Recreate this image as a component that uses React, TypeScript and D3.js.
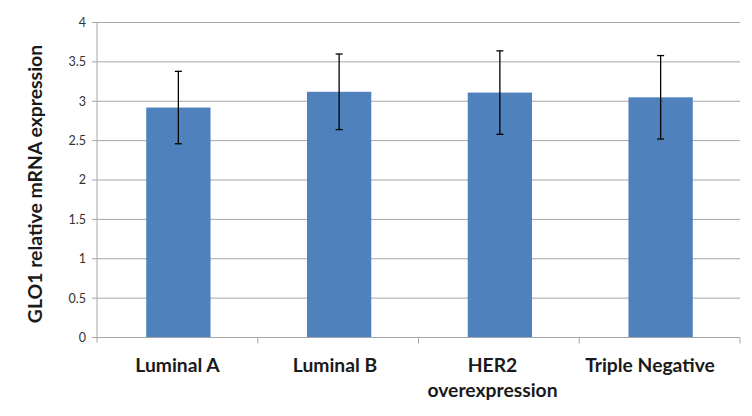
import { useEffect, useRef } from 'react';
import * as d3 from 'd3';

const W = 752;
const H = 416;

const categories = ['Luminal A', 'Luminal B', 'HER2\noverexpression', 'Triple Negative'];
const means = [2.92, 3.12, 3.11, 3.05];
const errors = [0.46, 0.48, 0.53, 0.53];
const yTicks = [0, 0.5, 1, 1.5, 2, 2.5, 3, 3.5, 4];

const M = { left: 97, right: 740, top: 22.5, bottom: 337.5 };
const FONT = 'Lato, "Open Sans", sans-serif';

export default function App() {
  const svgRef = useRef<SVGSVGElement>(null);

  useEffect(() => {
    const svg = d3.select(svgRef.current);
    svg.selectAll('*').remove();

    const x = d3.scaleBand<string>().domain(categories).range([M.left, M.right]).paddingInner(0).paddingOuter(0);
    const y = d3.scaleLinear([0, 4], [M.bottom, M.top]);
    // labels sit slightly left of band centres (kept inside the plot edge)
    const xl = d3.scalePoint<string>().domain(categories).range([M.left + 80.5, M.right - 90]);

    // gridlines
    svg.append('g').selectAll('line').data(yTicks.filter(t => t > 0)).join('line')
      .attr('x1', M.left).attr('x2', M.right)
      .attr('y1', d => y(d)).attr('y2', d => y(d))
      .attr('stroke', '#a6a6a6').attr('stroke-width', 1);

    // y ticks + labels
    svg.append('g').selectAll('line').data(yTicks).join('line')
      .attr('x1', M.left - 5).attr('x2', M.left)
      .attr('y1', d => y(d)).attr('y2', d => y(d))
      .attr('stroke', '#a6a6a6');
    svg.append('g').selectAll('text').data(yTicks).join('text')
      .attr('x', M.left - 11).attr('y', d => y(d)).attr('dy', '0.35em')
      .attr('text-anchor', 'end').attr('font-family', FONT).attr('font-size', 12.5)
      .attr('fill', '#333').text(d => String(d));

    // bars
    const bw = x.bandwidth() * 0.4;
    svg.append('g').selectAll('rect').data(categories).join('rect')
      .attr('x', d => x(d)! + x.bandwidth() / 2 - bw / 2 + 1)
      .attr('width', bw)
      .attr('y', (_, i) => y(means[i]))
      .attr('height', (_, i) => y(0) - y(means[i]))
      .attr('fill', '#4f81bd');

    // error bars
    const eb = svg.append('g').attr('stroke', '#000').attr('stroke-width', 1.3);
    categories.forEach((c, i) => {
      const cx = x(c)! + x.bandwidth() / 2 + 1;
      const hi = y(means[i] + errors[i]);
      const lo = y(means[i] - errors[i]);
      eb.append('line').attr('x1', cx).attr('x2', cx).attr('y1', hi).attr('y2', lo);
      eb.append('line').attr('x1', cx - 3.5).attr('x2', cx + 3.5).attr('y1', hi).attr('y2', hi);
      eb.append('line').attr('x1', cx - 3.5).attr('x2', cx + 3.5).attr('y1', lo).attr('y2', lo);
    });

    // axes
    svg.append('line').attr('x1', M.left).attr('x2', M.left).attr('y1', M.top).attr('y2', M.bottom + 5)
      .attr('stroke', '#a6a6a6');
    svg.append('line').attr('x1', M.left).attr('x2', M.right).attr('y1', M.bottom).attr('y2', M.bottom)
      .attr('stroke', '#a6a6a6');
    svg.append('g').selectAll('line').data(categories).join('line')
      .attr('x1', d => x(d)! + x.bandwidth()).attr('x2', d => x(d)! + x.bandwidth())
      .attr('y1', M.bottom).attr('y2', M.bottom + 6)
      .attr('stroke', '#a6a6a6');

    // category labels
    const lbl = svg.append('g').selectAll('text').data(categories).join('text')
      .attr('x', d => xl(d)!)
      .attr('y', 372)
      .attr('text-anchor', 'middle').attr('font-family', FONT).attr('font-weight', 'bold')
      .attr('font-size', 19.3).attr('fill', '#1a1a1a');
    lbl.each(function (d) {
      const t = d3.select(this);
      d.split('\n').forEach((s, k) => {
        t.append('tspan').attr('x', t.attr('x')).attr('dy', k === 0 ? 0 : 25).text(s);
      });
    });

    // y title
    svg.append('text')
      .attr('transform', `translate(42,184) rotate(-90)`)
      .attr('text-anchor', 'middle').attr('font-family', FONT).attr('font-weight', 'bold')
      .attr('font-size', 19.4).attr('fill', '#1a1a1a')
      .text('GLO1 relative mRNA expression');
  }, []);

  return (
    <svg ref={svgRef} width={W} height={H}
      style={{ position: 'absolute', left: 0, top: 0, background: '#fff' }} />
  );
}
